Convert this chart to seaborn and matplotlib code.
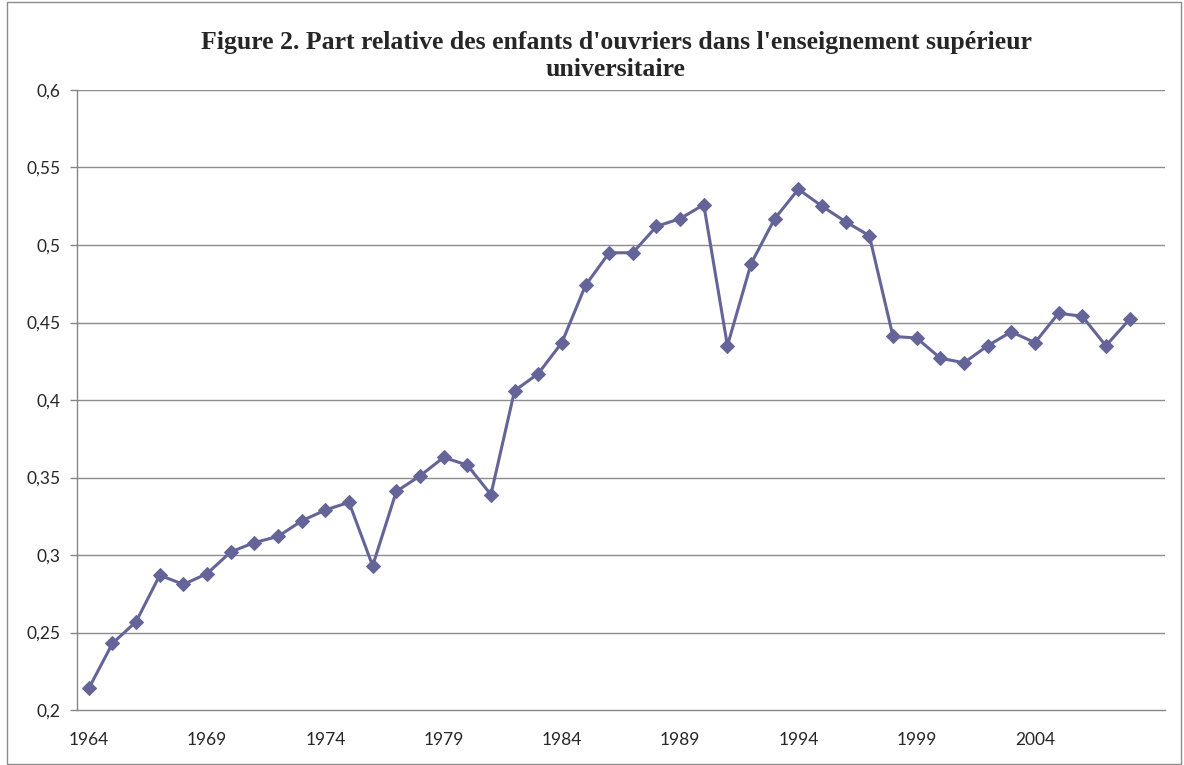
import matplotlib
matplotlib.use("Agg")
import matplotlib.pyplot as plt
import matplotlib.ticker as mticker
from matplotlib.patches import Rectangle
import seaborn as sns
import pandas as pd

years = list(range(1964, 2009))
share = [0.214, 0.243, 0.257, 0.287, 0.281, 0.288, 0.302, 0.308, 0.312, 0.322,
         0.329, 0.334, 0.293, 0.341, 0.351, 0.363, 0.358, 0.339, 0.406, 0.417,
         0.437, 0.474, 0.495, 0.495, 0.512, 0.517, 0.526, 0.435, 0.488, 0.517,
         0.536, 0.525, 0.515, 0.506, 0.441, 0.440, 0.427, 0.424, 0.435, 0.444,
         0.437, 0.456, 0.454, 0.435, 0.452]
label_years = [1964, 1969, 1974, 1979, 1984, 1989, 1994, 1999, 2004]
y_ticks = [0.2, 0.25, 0.3, 0.35, 0.4, 0.45, 0.5, 0.55, 0.6]

df = pd.DataFrame({"annee": years, "part": share})

sns.set_style("white")
plt.rcParams['font.family'] = ['Lato', 'DejaVu Sans']

fig = plt.figure(figsize=(11.84, 7.65), dpi=100)
ax = fig.add_axes([77 / 1184, 55 / 765, 1088 / 1184, 620 / 765])

sns.lineplot(data=df, x="annee", y="part", ax=ax, color="#646499",
             marker="D", markersize=7, markeredgecolor="#646499",
             linewidth=2.2, zorder=3)

ax.set_xlim(1963.5, 2009.5)
ax.set_ylim(0.2, 0.6)
ax.set_yticks(y_ticks)
ax.yaxis.set_major_formatter(mticker.FuncFormatter(lambda v, p: f"{v:g}".replace(".", ",")))
ax.set_xticks(label_years)
ax.set_xticks([y + 0.5 for y in range(1963, 2010)], minor=True)
ax.tick_params(axis="x", which="major", length=0, labelsize=12.5, pad=16)
ax.tick_params(axis="x", which="minor", length=5, color="#868686", width=1)
ax.tick_params(axis="y", length=5, color="#868686", width=1, labelsize=12.5, pad=7, left=True)

for v in y_ticks[1:]:
    ax.axhline(v, color="#8c8c8c", linewidth=1, zorder=1)

for side in ["top", "right"]:
    ax.spines[side].set_visible(False)
for side in ["left", "bottom"]:
    ax.spines[side].set_color("#868686")
    ax.spines[side].set_linewidth(1)

ax.set_xlabel("")
ax.set_ylabel("")

fig.text(616 / 1184, 1 - 56 / 765, "Figure 2. Part relative des enfants d'ouvriers dans l'enseignement supérieur\nuniversitaire",
         ha="center", va="center", fontsize=18.5, fontweight="bold",
         family=["Liberation Serif", "DejaVu Serif"], linespacing=1.25)

fig.patches.append(Rectangle((7 / 1184, 1 / 765), 1174 / 1184, 762 / 765, transform=fig.transFigure,
                             fill=False, edgecolor="#8c8c8c", linewidth=1))

fig.savefig("out.png", dpi=100)
